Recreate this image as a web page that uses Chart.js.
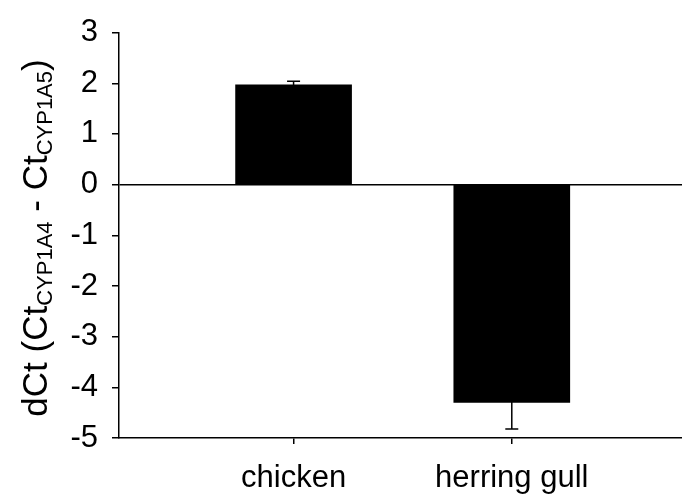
<!DOCTYPE html>
<html>
<head>
<meta charset="utf-8">
<script src="https://cdn.jsdelivr.net/npm/chart.js@4/dist/chart.umd.min.js"></script>
<style>
  html, body { margin: 0; padding: 0; background: #fff; }
  canvas { display: block; }
</style>
</head>
<body>
<canvas id="c" width="682" height="498"></canvas>
<script>
// dCt of CYP1A4 vs CYP1A5 per species, with standard error
const categories = ['chicken', 'herring gull'];
const positions = [1, 2];
const dCt = [1.97, -4.30];
const sem = [0.07, 0.52];
const yTicks = [-5, -4, -3, -2, -1, 0, 1, 2, 3];

const FAMILY = "'Liberation Sans', Arial, Helvetica, sans-serif";
const tickFont = { family: FAMILY, size: 31 };

// whiskers with caps drawn from the same values as the bars
const errorBars = {
  id: 'errorBars',
  afterDatasetsDraw(chart) {
    const { ctx, scales: { x, y } } = chart;
    ctx.save();
    ctx.strokeStyle = '#000';
    ctx.lineWidth = 1.5;
    positions.forEach((p, i) => {
      const px = x.getPixelForValue(p);
      const hi = y.getPixelForValue(dCt[i] + sem[i]);
      const lo = y.getPixelForValue(dCt[i] - sem[i]);
      ctx.beginPath();
      ctx.moveTo(px, hi); ctx.lineTo(px, lo);
      ctx.moveTo(px - 6.5, hi); ctx.lineTo(px + 6.5, hi);
      ctx.moveTo(px - 6.5, lo); ctx.lineTo(px + 6.5, lo);
      ctx.stroke();
    });
    ctx.restore();
  }
};

// rotated y-axis title with subscripts
const yTitle = {
  id: 'yTitle',
  afterDraw(chart) {
    const { ctx } = chart;
    const parts = [
      { t: 'dCt (Ct', size: 35, sub: false },
      { t: 'CYP1A4', size: 22, sub: true },
      { t: ' - Ct', size: 35, sub: false },
      { t: 'CYP1A5', size: 22, sub: true },
      { t: ')', size: 35, sub: false }
    ];
    ctx.save();
    ctx.fillStyle = '#000';
    ctx.textBaseline = 'alphabetic';
    ctx.textAlign = 'left';
    let total = 0;
    parts.forEach(p => {
      ctx.font = p.size + 'px ' + FAMILY;
      p.w = ctx.measureText(p.t).width;
      total += p.w;
    });
    ctx.translate(47, 238);
    ctx.rotate(-Math.PI / 2);
    let xPos = -total / 2;
    parts.forEach(p => {
      ctx.font = p.size + 'px ' + FAMILY;
      ctx.fillText(p.t, xPos, p.sub ? 5 : 0);
      xPos += p.w;
    });
    ctx.restore();
  }
};

new Chart(document.getElementById('c'), {
  type: 'bar',
  data: {
    datasets: [{
      data: positions.map((p, i) => ({ x: p, y: dCt[i] })),
      backgroundColor: '#000',
      borderWidth: 0,
      barThickness: 116
    }]
  },
  options: {
    responsive: false,
    animation: false,
    devicePixelRatio: 1,
    layout: { padding: { top: 27, right: 0, left: 0, bottom: 0 } },
    plugins: { legend: { display: false }, tooltip: { enabled: false } },
    scales: {
      x: {
        type: 'linear',
        offset: false,
        min: 0.2,
        max: 2.78,
        afterBuildTicks: s => { s.ticks = positions.map(v => ({ value: v })); },
        afterFit: s => { s.height = 60; },
        ticks: {
          font: tickFont,
          color: '#000',
          padding: 16,
          maxRotation: 0,
          autoSkip: false,
          callback: v => { const k = positions.indexOf(v); return k >= 0 ? categories[k] : ''; }
        },
        grid: { offset: false, drawOnChartArea: false, tickLength: 6, tickColor: '#000', lineWidth: 1.5 },
        border: { color: '#000', width: 1.5 }
      },
      y: {
        min: -5,
        max: 3,
        afterBuildTicks: s => { s.ticks = yTicks.map(v => ({ value: v })); },
        afterFit: s => { s.width = 119; },
        ticks: { font: tickFont, color: '#000', padding: 14 },
        grid: {
          color: c => (c.tick && c.tick.value === 0) ? '#000' : 'rgba(0,0,0,0)',
          tickColor: '#000',
          tickLength: 7,
          lineWidth: 1.5
        },
        border: { color: '#000', width: 1.5 }
      }
    }
  },
  plugins: [errorBars, yTitle]
});
</script>
</body>
</html>
